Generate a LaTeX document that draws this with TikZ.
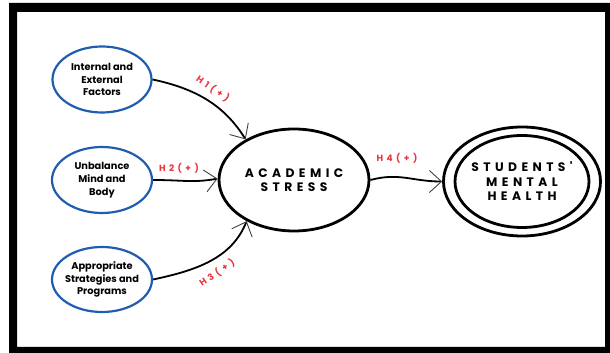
\documentclass[tikz,border=0pt]{standalone}
\usepackage{fontspec}
\setmainfont{Poppins}
\newfontfamily\capsfont[LetterSpace=36]{Poppins}
\newfontfamily\labfont[LetterSpace=38]{Poppins}
\usetikzlibrary{shapes.geometric,arrows.meta}
\definecolor{nodeblue}{RGB}{32,92,176}
\definecolor{labred}{RGB}{232,52,58}
\begin{document}
\begin{tikzpicture}[x=1pt,y=1pt,
  factor/.style={ellipse,draw=nodeblue,line width=2.2pt,inner sep=0pt},
  factortext/.style={align=center,font=\fontsize{9.8}{12.7}\selectfont\bfseries},
  mainell/.style={ellipse,draw=black,line width=2.8pt,inner sep=0pt},
  maintext/.style={align=center,font=\capsfont\fontsize{12.3}{14.5}\selectfont\bfseries},
  hyp/.style={font=\labfont\fontsize{9}{10}\selectfont\bfseries,text=labred,inner sep=0pt},
  conn/.style={draw=black,line width=1.8pt,
    -{Straight Barb[length=12pt,width=22pt,line width=0.9pt,color=black!75]}}
]
\useasboundingbox (0,0) rectangle (610,353);
% frame
\fill[black,even odd rule] (9,0) rectangle (610,350) (17,6) rectangle (605,341);

% factor nodes
\node[factor,minimum width=99,minimum height=66] (f1) at (102,273.5) {};
\node[factortext] (t1) at (f1) {Internal and\\External\\Factors};
\node[factor,minimum width=100,minimum height=66] (f2) at (102,173) {};
\node[factortext] (t2) at (f2) {Unbalance\\Mind and\\Body};
\node[factor,minimum width=100,minimum height=65] (f3) at (102,73.5) {};
\node[factortext] (t3) at (f3) {Appropriate\\Strategies and\\Programs};

% main nodes
\node[mainell,minimum width=150,minimum height=102] (as) at (294,173) {};
\node[maintext] (ast) at (as) {ACADEMIC\\STRESS};
\node[mainell,minimum width=157,minimum height=109] (smh) at (522,171.5) {};
\node[mainell,minimum width=134,minimum height=92] (smhi) at (smh) {};
\node[maintext] (smht) at (smh) {STUDENTS'\\MENTAL\\HEALTH};

% connectors
\draw[conn] (f1.east) .. controls +(-12:45) and +(122:40) .. (as.140);
\draw[conn] (f2.east) .. controls +(0:30) and +(190:25) .. (as.179);
\draw[conn] (f3.east) .. controls +(12:45) and +(-112:40) .. (as.221);
\draw[conn] (as.east) .. controls +(15:30) and +(180:30) .. (smh.west);

% labels
\node[hyp,rotate=-35] (h1) at (213,264) {H1(+)};
\node[hyp] (h2) at (179,185) {H2(+)};
\node[hyp,rotate=34] (h3) at (217,80) {H3(+)};
\node[hyp] (h4) at (397,195) {H4(+)};
\end{tikzpicture}
\end{document}
